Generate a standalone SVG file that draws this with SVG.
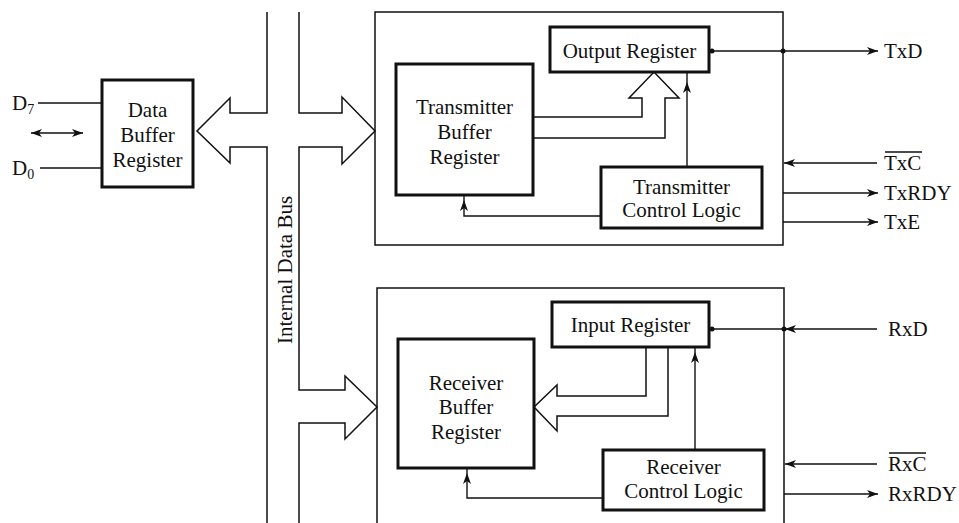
<svg xmlns="http://www.w3.org/2000/svg" width="959" height="523" viewBox="0 0 959 523">
<style>
text{font-family:"Liberation Serif","Times New Roman",serif;font-size:21px;fill:#111}
.c{text-anchor:middle}
.box{fill:none;stroke:#111;stroke-width:3}
.outer{fill:none;stroke:#111;stroke-width:1.5}
.ln{fill:none;stroke:#111;stroke-width:1.4}
.arr{fill:none;stroke:#111;stroke-width:1.4;marker-end:url(#ah)}
.dot{fill:#111}
</style>
<defs>
<marker id="ah" markerUnits="userSpaceOnUse" markerWidth="12" markerHeight="8" refX="11" refY="4" orient="auto-start-reverse">
<path d="M0,0 L11,4 L0,8 L3,4 z" fill="#111"/>
</marker>
</defs>

<g id="data-buffer">
<rect class="box" x="102" y="80" width="91" height="107"/>
<text class="c" x="147.5" y="117">Data</text>
<text class="c" x="147.5" y="142">Buffer</text>
<text class="c" x="147.5" y="167">Register</text>
</g>

<g id="data-pins">
<text x="12" y="110">D<tspan font-size="14" dy="4">7</tspan></text>
<text x="12" y="175">D<tspan font-size="14" dy="4">0</tspan></text>
</g>

<g id="tx-section">
<rect class="outer" x="375" y="12" width="408" height="233"/>
</g>
<g id="output-register">
<rect class="box" x="550" y="27" width="159" height="45"/>
<text class="c" x="629.5" y="58">Output Register</text>
</g>
<g id="tx-buffer">
<rect class="box" x="396" y="64" width="137" height="131"/>
<text class="c" x="464.5" y="114">Transmitter</text>
<text class="c" x="464.5" y="139">Buffer</text>
<text class="c" x="464.5" y="164">Register</text>
</g>
<g id="tx-control">
<rect class="box" x="601" y="167" width="161" height="61"/>
<text class="c" x="681.5" y="194">Transmitter</text>
<text class="c" x="681.5" y="217">Control Logic</text>
</g>

<g id="rx-section">
<path class="outer" d="M377,523 V288 H784 V523"/>
</g>
<g id="input-register">
<rect class="box" x="552" y="302" width="157" height="45"/>
<text class="c" x="630.5" y="332">Input Register</text>
</g>
<g id="rx-buffer">
<rect class="box" x="398" y="339" width="136" height="129"/>
<text class="c" x="466" y="390">Receiver</text>
<text class="c" x="466" y="414">Buffer</text>
<text class="c" x="466" y="439">Register</text>
</g>
<g id="rx-control">
<rect class="box" x="603" y="450" width="161" height="60"/>
<text class="c" x="683.5" y="474">Receiver</text>
<text class="c" x="683.5" y="498">Control Logic</text>
</g>

<g id="bus-label">
<text class="c" x="0" y="0" font-size="22" transform="translate(292,270) rotate(-90)">Internal Data Bus</text>
</g>

<g id="signal-labels">
<text x="884" y="58">TxD</text>
<text x="884" y="170">TxC</text>
<line class="ln" x1="885" y1="152" x2="922" y2="152"/>
<text x="884" y="200">TxRDY</text>
<text x="884" y="229">TxE</text>
<text x="888" y="336">RxD</text>
<text x="888" y="471">RxC</text>
<line class="ln" x1="889" y1="453" x2="926" y2="453"/>
<text x="888" y="501">RxRDY</text>
</g>

<g id="connectors">
<!-- internal data bus -->
<path class="outer" d="M267,12 V113 H230 V98 L197,131 L230,163 V147 H267 V523"/>
<path class="outer" d="M299,12 V113 H342 V97 L375,131 L342,164 V147 H299 V390 H345 V376 L377,407 L345,439 V423 H299 V523"/>
<!-- data pins -->
<path class="ln" d="M38,103 H102"/>
<path class="ln" d="M40,168 H102"/>
<path class="ln" d="M31,133 H83" marker-start="url(#ah)" marker-end="url(#ah)"/>
<!-- transmitter internals -->
<path class="outer" d="M533,117 H642 V98 H629 L654,72 L679,98 H665 V138 H533"/>
<path class="arr" d="M687,167 V82"/>
<path class="ln" d="M687,82 V72"/>
<path class="arr" d="M601,216 H464 V200"/>
<path class="ln" d="M464,200 V195"/>
<!-- transmitter pins -->
<path class="arr" d="M713,51 H878"/>
<circle class="dot" cx="712" cy="51" r="2.5"/>
<circle class="dot" cx="783" cy="51" r="2.5"/>
<path class="arr" d="M877,163 H784"/>
<path class="arr" d="M783,193 H878"/>
<path class="arr" d="M783,222 H878"/>
<!-- receiver internals -->
<path class="outer" d="M646,347 V396 H557 V385 L534,407 L557,431 V416 H668 V347"/>
<path class="arr" d="M695,450 V352"/>
<path class="ln" d="M695,352 V347"/>
<path class="arr" d="M603,498 H467 V473"/>
<path class="ln" d="M467,473 V468"/>
<!-- receiver pins -->
<path class="ln" d="M711,329 H784"/>
<path class="arr" d="M877,329 H785"/>
<circle class="dot" cx="712" cy="329" r="2.5"/>
<circle class="dot" cx="784" cy="329" r="2.5"/>
<path class="arr" d="M877,464 H785"/>
<path class="arr" d="M784,494 H878"/>
</g>
</svg>
